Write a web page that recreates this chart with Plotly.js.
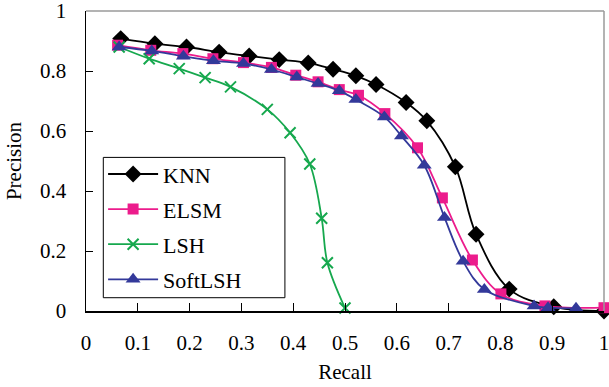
<!DOCTYPE html>
<html>
<head>
<meta charset="utf-8">
<script src="https://cdn.plot.ly/plotly-3.0.1.min.js"></script>
<style>html,body{margin:0;padding:0;background:#fff;}#chart{width:609px;height:387px;}</style>
</head>
<body>
<div id="chart"></div>
<script>
// Series names
const seriesNames = ["KNN", "ELSM", "LSH", "SoftLSH"];

// KNN
const knnRecall    = [0.067, 0.133, 0.194, 0.257, 0.315, 0.373, 0.429, 0.477, 0.521, 0.560, 0.618, 0.658, 0.713, 0.753, 0.817, 0.903, 1.000];
const knnPrecision = [0.908, 0.891, 0.880, 0.863, 0.850, 0.838, 0.827, 0.806, 0.784, 0.755, 0.695, 0.634, 0.481, 0.256, 0.073, 0.014, 0.000];

// ELSM
const elsmRecall    = [0.061, 0.125, 0.187, 0.245, 0.304, 0.358, 0.405, 0.448, 0.489, 0.526, 0.577, 0.640, 0.688, 0.746, 0.801, 0.886, 1.000];
const elsmPrecision = [0.886, 0.869, 0.858, 0.841, 0.828, 0.812, 0.786, 0.764, 0.738, 0.719, 0.658, 0.544, 0.377, 0.170, 0.057, 0.017, 0.011];

// LSH
const lshRecall    = [0.064, 0.122, 0.180, 0.230, 0.279, 0.350, 0.394, 0.432, 0.455, 0.466, 0.500];
const lshPrecision = [0.880, 0.841, 0.808, 0.778, 0.747, 0.672, 0.594, 0.490, 0.309, 0.161, 0.010];

// SoftLSH
const softRecall    = [0.064, 0.127, 0.188, 0.246, 0.304, 0.358, 0.407, 0.448, 0.489, 0.521, 0.576, 0.609, 0.653, 0.692, 0.728, 0.769, 0.865, 0.892, 0.946];
const softPrecision = [0.880, 0.867, 0.849, 0.834, 0.825, 0.805, 0.780, 0.758, 0.734, 0.705, 0.647, 0.583, 0.486, 0.312, 0.166, 0.072, 0.017, 0.011, 0.009];

// Axis ticks
const xTicks = [0, 0.1, 0.2, 0.3, 0.4, 0.5, 0.6, 0.7, 0.8, 0.9, 1];
const xTickText = ["0", "0.1", "0.2", "0.3", "0.4", "0.5", "0.6", "0.7", "0.8", "0.9", "1"];
const yTicks = [0, 0.2, 0.4, 0.6, 0.8, 1];
const yTickText = ["0", "0.2", "0.4", "0.6", "0.8", "1"];

const FONT = "Liberation Serif";

function mk(name, x, y, color, symbol, size, group) {
  return {
    type: "scatter", mode: "lines+markers", name: name, x: x, y: y,
    legendgroup: group,
    line: {color: color, width: 1.8, shape: "spline", smoothing: 1},
    marker: {color: color, symbol: symbol, size: size, line: {color: color, width: symbol === "x-thin" ? 2 : 0}},
    cliponaxis: false
  };
}

const traces = [
  mk(seriesNames[0], knnRecall, knnPrecision, "#000000", "diamond", 13, "g1"),
  mk(seriesNames[1], elsmRecall, elsmPrecision, "#EC1C8C", "square", 11, "g2"),
  mk(seriesNames[2], lshRecall, lshPrecision, "#16A84E", "x-thin", 11, "g3"),
  mk(seriesNames[3], softRecall, softPrecision, "#33399A", "triangle-up", 13, "g4")
];

const layout = {
  width: 609, height: 387,
  margin: {l: 86, r: 5, t: 11, b: 76},
  paper_bgcolor: "#fff", plot_bgcolor: "#fff",
  font: {family: FONT, size: 21, color: "#000"},
  showlegend: true,
  legend: {
    x: 0.033, y: 0.526, xanchor: "left", yanchor: "top",
    bgcolor: "rgba(0,0,0,0)", borderwidth: 0,
    font: {family: FONT, size: 22, color: "#000"},
    traceorder: "grouped", tracegroupgap: 3.5, itemwidth: 50
  },
  xaxis: {
    range: [0, 1.00001], tickvals: xTicks, ticktext: xTickText,
    ticks: "inside", ticklen: 8, tickwidth: 1, tickcolor: "#000",
    showline: true, linecolor: "#000", linewidth: 1.5,
    showgrid: false, zeroline: false, fixedrange: true,
    ticklabelstandoff: 12, ticklabeloverflow: "allow",
    title: {text: "Recall", font: {family: FONT, size: 21}, standoff: 10}
  },
  yaxis: {
    range: [0, 1.00001], tickvals: yTicks, ticktext: yTickText,
    ticks: "inside", ticklen: 7, tickwidth: 1, tickcolor: "#000",
    showline: true, linecolor: "#000", linewidth: 1.5,
    showgrid: false, zeroline: false, fixedrange: true,
    ticklabelstandoff: 14, ticklabeloverflow: "allow",
    title: {text: "Precision", font: {family: FONT, size: 21}, standoff: 12}
  },
  shapes: [
    {type: "line", xref: "paper", yref: "paper", x0: 0, x1: 1, y0: 1, y1: 1, line: {color: "#9a9a9a", width: 1.5}},
    {type: "line", xref: "paper", yref: "paper", x0: 1, x1: 1, y0: 0, y1: 1, line: {color: "#9a9a9a", width: 1.5}},
    {type: "rect", xref: "paper", yref: "paper", x0: 0.0334, x1: 0.384, y0: 0.0443, y1: 0.512,
     layer: "above", fillcolor: "#fff", line: {color: "#000", width: 1}}
  ]
};

Plotly.newPlot("chart", traces, layout, {displayModeBar: false, staticPlot: true});
</script>
</body>
</html>
